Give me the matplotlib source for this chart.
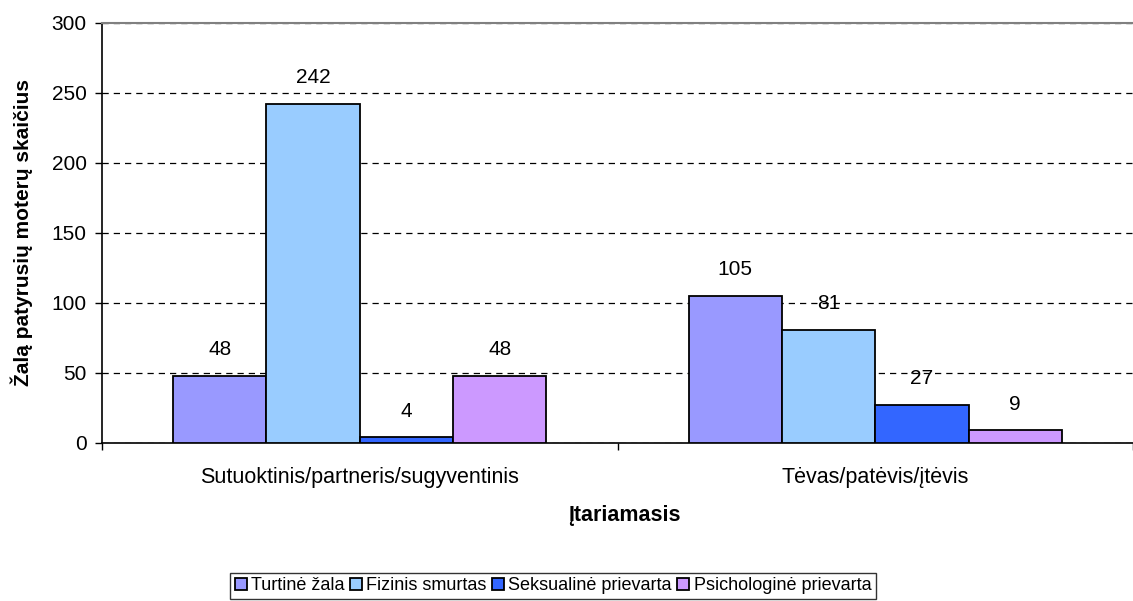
import numpy as np
import matplotlib.pyplot as plt

plt.rcParams['font.family'] = ['Liberation Sans', 'DejaVu Sans']

categories = ['Sutuoktinis/partneris/sugyventinis', 'Tėvas/patėvis/įtėvis']
series = ['Turtinė žala', 'Fizinis smurtas', 'Seksualinė prievarta', 'Psichologinė prievarta']
values = [
    [48, 105],
    [242, 81],
    [4, 27],
    [48, 9],
]
colors = ['#9999FF', '#99CCFF', '#3366FF', '#CC99FF']

fig = plt.figure(figsize=(11.33, 6.01), dpi=100)
ax = fig.add_axes([102 / 1133, 158 / 601, 1 - 102 / 1133, 420 / 601])

x = np.arange(len(categories))
w = 0.181
for i, (name, vals, c) in enumerate(zip(series, values, colors)):
    pos = x + (i - 1.5) * w
    ax.bar(pos, vals, w, color=c, edgecolor='black', linewidth=1.3, label=name, zorder=3)
    for p, v in zip(pos, vals):
        ax.annotate(str(v), (p, v), xytext=(0, 19), textcoords='offset points',
                    ha='center', va='center', fontsize=15, zorder=4)

ax.set_ylim(0, 300)
ax.set_xlim(-0.5, 1.5 - 9 / 520)
ax.set_yticks(np.arange(0, 301, 50))
ax.yaxis.grid(True, linestyle=(0, (5, 4)), color='black', linewidth=0.9, zorder=0)
ax.set_xticks([-0.5, 0.5, 1.5])
ax.set_xticklabels([])
ax.set_xticks(x, minor=True)
ax.set_xticklabels(categories, minor=True)
ax.tick_params(axis='x', which='minor', length=0, labelsize=15.5, pad=17)
ax.tick_params(axis='x', which='major', length=5, direction='out', width=1)
ax.tick_params(axis='y', length=5, direction='out', labelsize=15, width=1, pad=6)

ax.spines['top'].set_color('#808080')
ax.spines['top'].set_linewidth(1.5)
ax.spines['right'].set_visible(False)
ax.spines['left'].set_linewidth(1.2)
ax.spines['bottom'].set_linewidth(1.2)
ax.spines['top'].set_zorder(5)

ax.set_ylabel('Žalą patyrusių moterų skaičius', fontsize=15, fontweight='bold')
ax.yaxis.set_label_coords((33 - 102) / 1031, 0.5)
fig.text(624 / 1133, 1 - 515 / 601, 'Įtariamasis', fontsize=15.5, fontweight='bold',
         ha='center', va='center')

leg = fig.legend(loc='center', bbox_to_anchor=(553 / 1133, 1 - 586 / 601), ncol=4,
                 fontsize=13, frameon=True, fancybox=False, edgecolor='black',
                 handlelength=0.65, handleheight=0.65, handletextpad=0.25,
                 columnspacing=0.3, borderpad=0.25, borderaxespad=0)
leg.get_frame().set_linewidth(1.0)

fig.savefig('out.png', dpi=100)
